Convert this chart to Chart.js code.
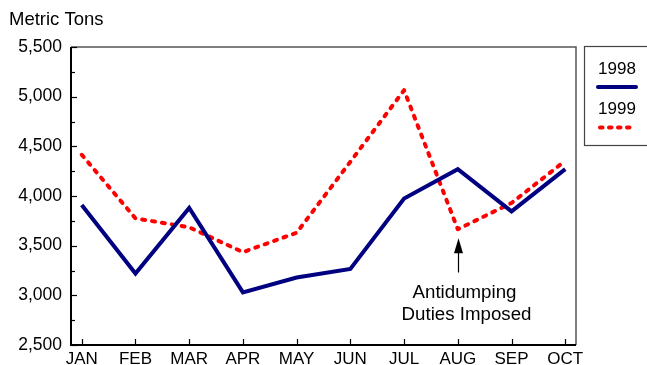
<!DOCTYPE html>
<html>
<head>
<meta charset="utf-8">
<script src="https://cdn.jsdelivr.net/npm/chart.js@4.4.1/dist/chart.umd.min.js"></script>
<style>
html,body{margin:0;padding:0;background:#fff;}
#wrap{width:647px;height:365px;position:relative;}
</style>
</head>
<body>
<div id="wrap"><canvas id="c" width="647" height="365"></canvas></div>
<script>
const months = ["JAN","FEB","MAR","APR","MAY","JUN","JUL","AUG","SEP","OCT"];
const series1998 = [3910, 3220, 3880, 3030, 3180, 3265, 3975, 4270, 3845, 4270];
const series1999 = [4415, 3775, 3685, 3435, 3630, 4345, 5065, 3665, 3930, 4355];
const yTicks = [2500, 3000, 3500, 4000, 4500, 5000, 5500];
const yAxisTitle = "Metric Tons";
const annotationLines = ["Antidumping", "Duties Imposed"];
const annotationMonth = 7;
const annotationTipValue = 3575;
const annotationBaseValue = 3230;

const FONT = "'Liberation Sans', Arial, sans-serif";

const customDraw = {
  id: 'customDraw',
  afterDraw(chart) {
    const ctx = chart.ctx;
    const a = chart.chartArea;
    const xs = chart.scales.x, ys = chart.scales.y;
    ctx.save();
    // frame: top/right gray
    ctx.strokeStyle = '#555';
    ctx.lineWidth = 1.5;
    ctx.beginPath();
    ctx.moveTo(a.left, a.top); ctx.lineTo(a.right, a.top); ctx.lineTo(a.right, a.bottom);
    ctx.stroke();
    // left / bottom black
    ctx.strokeStyle = '#000';
    ctx.lineWidth = 2;
    ctx.beginPath();
    ctx.moveTo(a.left, a.top); ctx.lineTo(a.left, a.bottom); ctx.lineTo(a.right, a.bottom);
    ctx.stroke();
    // y ticks inside
    ctx.lineWidth = 1.2;
    ys.ticks.forEach(t => {
      const y = Math.round(ys.getPixelForValue(t.value)) + 0.5;
      const len = (t.value % 500 === 0) ? 6 : 4;
      ctx.beginPath(); ctx.moveTo(a.left, y); ctx.lineTo(a.left + len, y); ctx.stroke();
    });
    // x ticks inside
    xs.ticks.forEach(t => {
      const x = Math.round(xs.getPixelForValue(t.value)) + 0.5;
      ctx.beginPath(); ctx.moveTo(x, a.bottom); ctx.lineTo(x, a.bottom - 6); ctx.stroke();
    });
    // y axis title
    ctx.fillStyle = '#000';
    ctx.font = '18.5px ' + FONT;
    ctx.textAlign = 'left';
    ctx.textBaseline = 'alphabetic';
    ctx.fillText(yAxisTitle, 9, 25);

    // annotation arrow
    const ax = Math.round(xs.getPixelForValue(annotationMonth)) + 0.5;
    const tipY = ys.getPixelForValue(annotationTipValue);
    const baseY = ys.getPixelForValue(annotationBaseValue);
    ctx.strokeStyle = '#000';
    ctx.lineWidth = 1.2;
    ctx.beginPath(); ctx.moveTo(ax, baseY); ctx.lineTo(ax, tipY + 12); ctx.stroke();
    ctx.beginPath();
    ctx.moveTo(ax, tipY); ctx.lineTo(ax - 4.5, tipY + 15); ctx.lineTo(ax + 4.5, tipY + 15); ctx.closePath();
    ctx.fill();
    ctx.font = '18.7px ' + FONT;
    ctx.textAlign = 'center';
    ctx.fillText(annotationLines[0], ax + 6, baseY + 26);
    ctx.fillText(annotationLines[1], ax + 8, baseY + 48);

    // legend box
    const lx = 584, ly = 46, lw = 70, lh = 99;
    ctx.strokeStyle = '#444';
    ctx.lineWidth = 1.2;
    ctx.strokeRect(lx + 0.5, ly + 0.5, lw, lh);
    const ds = chart.data.datasets;
    ctx.font = '17px ' + FONT;
    ctx.textAlign = 'center';
    ctx.fillStyle = '#000';
    ctx.fillText(ds[0].label, 617, 74);
    ctx.fillText(ds[1].label, 617, 114);
    ctx.lineCap = 'round';
    ctx.lineWidth = 4;
    ctx.strokeStyle = ds[0].borderColor;
    ctx.beginPath(); ctx.moveTo(598, 87); ctx.lineTo(636, 87); ctx.stroke();
    ctx.strokeStyle = ds[1].borderColor;
    ctx.setLineDash([2.5, 6.5]);
    ctx.beginPath(); ctx.moveTo(600, 127.5); ctx.lineTo(634, 127.5); ctx.stroke();
    ctx.restore();
  }
};

new Chart(document.getElementById('c'), {
  type: 'line',
  data: {
    datasets: [
      {
        label: '1998',
        data: series1998.map((v, i) => ({x: i, y: v})),
        borderColor: '#000080',
        borderWidth: 4,
        pointRadius: 0,
        tension: 0,
        borderJoinStyle: 'miter',
        fill: false
      },
      {
        label: '1999',
        data: series1999.map((v, i) => ({x: i, y: v})),
        borderColor: '#ff0000',
        borderWidth: 4,
        borderDash: [3, 7],
        borderCapStyle: 'round',
        borderJoinStyle: 'round',
        pointRadius: 0,
        tension: 0,
        fill: false
      }
    ]
  },
  options: {
    responsive: false,
    animation: false,
    layout: { padding: { left: 0, top: 47, right: 71, bottom: 0 } },
    plugins: { legend: { display: false }, tooltip: { enabled: false } },
    scales: {
      x: {
        type: 'linear',
        min: -0.2,
        max: 9.2,
        afterBuildTicks: s => { s.ticks = months.map((m, i) => ({ value: i })); },
        afterFit: s => { s.height = 20; },
        grid: { display: false, drawTicks: false },
        border: { display: false },
        ticks: {
          autoSkip: false,
          maxRotation: 0,
          padding: 4,
          color: '#000',
          font: { family: FONT, size: 17 },
          callback: v => months[v]
        }
      },
      y: {
        type: 'linear',
        min: yTicks[0],
        max: yTicks[yTicks.length - 1],
        afterBuildTicks: s => {
          const t = [];
          for (let v = yTicks[0]; v <= yTicks[yTicks.length - 1]; v += 250) t.push({ value: v });
          s.ticks = t;
        },
        afterFit: s => { s.width = 71; },
        grid: { display: false, drawTicks: false },
        border: { display: false },
        ticks: {
          autoSkip: false,
          padding: 9,
          color: '#000',
          font: { family: FONT, size: 17.5 },
          callback: v => yTicks.includes(v) ? v.toLocaleString('en-US') : ''
        }
      }
    }
  },
  plugins: [customDraw]
});
</script>
</body>
</html>
